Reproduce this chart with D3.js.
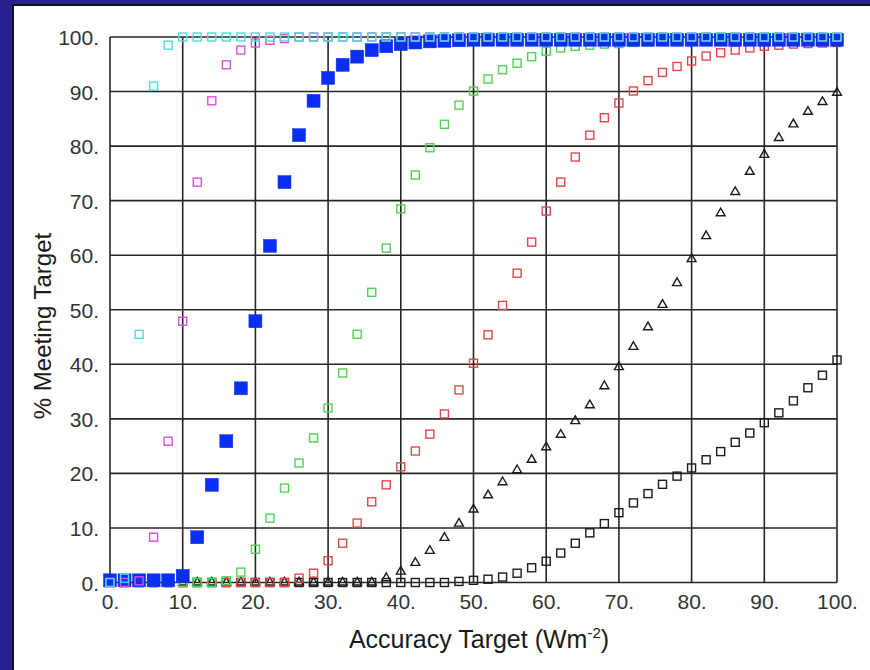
<!DOCTYPE html>
<html>
<head>
<meta charset="utf-8">
<script src="https://cdn.jsdelivr.net/npm/d3@7"></script>
<style>
html,body{margin:0;padding:0;background:#27208e;}
svg{display:block;}
</style>
</head>
<body>
<svg id="chart" width="870" height="670"></svg>
<script>
// ---- data ----
const xValues = [0,2,4,6,8,10,12,14,16,18,20,22,24,26,28,30,32,34,36,38,40,42,44,46,48,50,
  52,54,56,58,60,62,64,66,68,70,72,74,76,78,80,82,84,86,88,90,92,94,96,98,100];
const xTicks = [0,10,20,30,40,50,60,70,80,90,100];
const yTicks = [0,10,20,30,40,50,60,70,80,90,100];
const xTickLabels = ["0.","10.","20.","30.","40.","50.","60.","70.","80.","90.","100."];
const yTickLabels = ["0.","10.","20.","30.","40.","50.","60.","70.","80.","90.","100."];

const cyanSeries = [0,0.8,45.5,91,98.5,100,100,100,100,100,100,100,100,100,100,100,100,100,100,100,
  100,100,100,100,100,100,100,100,100,100,100,100,100,100,100,100,100,100,100,100,100,100,100,100,100,100,100,100,100,100,100];
const magentaSeries = [0,0,0.3,8.3,25.9,47.9,73.4,88.3,94.9,97.6,98.9,99.4,99.7,100,100,100,100,100,100,100,
  100,100,100,100,100,100,100,100,100,100,100,100,100,100,100,100,100,100,100,100,100,100,100,100,100,100,100,100,100,100,100];
const blueSeries = [0.4,0.4,0.4,0.4,0.4,1.2,8.3,17.9,25.9,35.6,47.9,61.7,73.4,82,88.3,92.5,94.9,96.4,97.6,98.3,
  98.7,99.0,99.2,99.3,99.4,99.5,99.5,99.5,99.5,99.5,99.5,99.5,99.5,99.5,99.5,99.5,99.5,99.5,99.5,99.5,99.5,99.5,99.5,99.5,99.5,99.5,99.5,99.5,99.5,99.5,99.5];
const greenSeries = [0,0,0,0,0,0,0,0,0.3,1.9,6.1,11.8,17.3,21.9,26.5,32,38.4,45.5,53.2,61.3,
  68.5,74.7,79.7,84,87.5,90.1,92.3,94,95.2,96.4,97.4,98,98.3,98.5,98.7,98.8,99,99.1,99.2,99.3,99.4,
  99.5,99.5,99.5,99.5,99.5,99.5,99.5,99.5,99.5,99.5];
const redSeries = [0,0,0,0,0,0,0,0,0,0,0,0,0,0.8,1.7,4,7.2,10.9,14.8,17.9,
  21.2,24.1,27.2,30.9,35.3,40.2,45.4,50.8,56.7,62.4,68.1,73.4,78,82,85.2,87.9,90.1,92,93.5,94.6,95.6,
  96.5,97.1,97.6,98,98.3,98.5,98.7,98.8,98.9,99];
const triangleSeries = [0,0,0,0,0,0,0,0,0,0,0,0,0,0,0,0,0,0,0,0.8,
  2,3.6,5.8,8.2,10.8,13.4,16,18.4,20.6,22.5,24.8,27.1,29.6,32.5,36,39.5,43.2,46.8,50.9,54.9,59.3,
  63.5,67.7,71.6,75.3,78.4,81.5,84,86.3,88.1,89.8];
const blackSquareSeries = [0,0,0,0,0,0,0,0,0,0,0,0,0,0,0,0,0,0,0,0,
  0,0,0,0,0.2,0.4,0.6,1.0,1.7,2.7,3.9,5.4,7.2,9.1,10.8,12.8,14.6,16.3,18,19.5,21,
  22.5,24,25.7,27.4,29.3,31.1,33.3,35.7,38,40.8];

// ---- drawing ----
const svg = d3.select("#chart");
const W = 870, H = 670;
svg.append("rect").attr("x",0).attr("y",0).attr("width",W).attr("height",H).attr("fill","#27208e");
svg.append("rect").attr("x",13).attr("y",5).attr("width",W).attr("height",H)
  .attr("fill","#ffffff").attr("stroke","#111").attr("stroke-width",2);

const x = d3.scaleLinear().domain([0,100]).range([110,837]);
const y = d3.scaleLinear().domain([0,100]).range([582.5,37]);

const grid = svg.append("g");
grid.selectAll("line.v").data(xTicks).join("line")
  .attr("x1",d=>x(d)).attr("x2",d=>x(d)).attr("y1",y(0)).attr("y2",y(100))
  .attr("stroke","#262626").attr("stroke-width",1.6);
grid.selectAll("line.h").data(yTicks).join("line")
  .attr("y1",d=>y(d)).attr("y2",d=>y(d)).attr("x1",x(0)).attr("x2",x(100))
  .attr("stroke","#262626").attr("stroke-width",1.6);

const xAxis = d3.axisBottom(x).tickValues(xTicks).tickSize(0).tickPadding(0)
  .tickFormat((d,i)=>xTickLabels[i]);
const gx = svg.append("g").attr("transform",`translate(0,${y(0)+12})`).call(xAxis);
gx.select(".domain").remove();
gx.selectAll("text").attr("font-family","Liberation Sans, Arial, sans-serif")
  .attr("font-size",21).attr("fill","#333").attr("dy","0.71em");

const yAxis = d3.axisLeft(y).tickValues(yTicks).tickSize(0).tickPadding(0)
  .tickFormat((d,i)=>yTickLabels[i]);
const gy = svg.append("g").attr("transform",`translate(${x(0)-11},0)`).call(yAxis);
gy.select(".domain").remove();
gy.selectAll("text").attr("font-family","Liberation Sans, Arial, sans-serif")
  .attr("font-size",21).attr("fill","#333").attr("dy","0.36em");

const xt = svg.append("text").attr("x",479).attr("y",648).attr("text-anchor","middle")
  .attr("font-family","Liberation Sans, Arial, sans-serif").attr("font-size",25).attr("fill","#1a1a1a");
xt.append("tspan").text("Accuracy Target (Wm");
xt.append("tspan").attr("dy",-10).attr("font-size",15).text("-2");
xt.append("tspan").attr("dy",10).text(")");

svg.append("text").attr("transform","translate(51,326) rotate(-90)").attr("text-anchor","middle")
  .attr("font-family","Liberation Sans, Arial, sans-serif").attr("font-size",24).attr("fill","#1a1a1a")
  .text("% Meeting Target");

const pts = arr => xValues.map((xv,i)=>({x:xv,y:arr[i]}));

function openSquares(arr, color, side, sw){
  svg.append("g").selectAll("rect").data(pts(arr)).join("rect")
    .attr("x",d=>x(d.x)-side/2).attr("y",d=>y(d.y)-side/2)
    .attr("width",side).attr("height",side)
    .attr("fill","none").attr("stroke",color).attr("stroke-width",sw);
}
openSquares(blackSquareSeries,"#1a1a1a",8,1.4);
const tri = d3.symbol().type(d3.symbolTriangle).size(34);
svg.append("g").selectAll("path").data(pts(triangleSeries)).join("path")
  .attr("d",tri).attr("transform",d=>`translate(${x(d.x)},${y(d.y)})`)
  .attr("fill","none").attr("stroke","#1a1a1a").attr("stroke-width",1.4);
openSquares(redSeries,"#e2474a",8,1.4);
openSquares(greenSeries,"#4fd44f",8,1.4);
svg.append("g").selectAll("rect").data(pts(blueSeries)).join("rect")
  .attr("x",d=>x(d.x)-6.5).attr("y",d=>y(d.y)-6.5)
  .attr("width",13).attr("height",13)
  .attr("fill","#0a2ff2").attr("stroke","#0a2ff2").attr("stroke-width",0.5);
openSquares(magentaSeries,"#dd4fdd",8,1.4);
openSquares(cyanSeries,"#4fdcdc",8,1.4);
</script>
</body>
</html>
